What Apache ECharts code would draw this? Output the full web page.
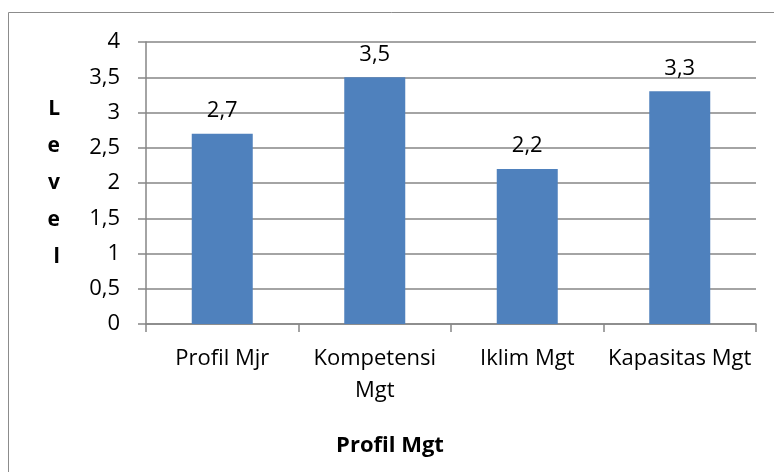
<!DOCTYPE html>
<html>
<head>
<meta charset="utf-8">
<script src="https://cdn.jsdelivr.net/npm/echarts@6/dist/echarts.min.js"></script>
<style>
  html, body { margin: 0; padding: 0; background: #fff; }
  #chart { width: 774px; height: 472px; }
</style>
</head>
<body>
<div id="chart"></div>
<script>
  // data
  var categories = ['Profil Mjr', 'Kompetensi\nMgt', 'Iklim Mgt', 'Kapasitas Mgt'];
  var levels = [2.7, 3.5, 2.2, 3.3];
  var yTicks = { min: 0, max: 4, interval: 0.5 };

  var font = '"Open Sans", "Noto Sans", sans-serif';
  var comma = function (v) { return String(v).replace('.', ','); };

  var chart = echarts.init(document.getElementById('chart'));
  chart.setOption({
    animation: false,
    grid: { left: 146, right: 18, top: 42, bottom: 148 },
    graphic: [
      {
        type: 'rect',
        shape: { x: 8.5, y: 12.5, width: 800, height: 500 },
        style: { fill: 'none', stroke: '#8c8c8c', lineWidth: 1 },
        silent: true
      },
      {
        type: 'text',
        x: 390, y: 446,
        style: {
          text: 'Profil Mgt',
          font: 'bold 22px ' + font,
          fill: '#000',
          align: 'center',
          verticalAlign: 'middle'
        }
      }
    ],
    xAxis: {
      type: 'category',
      data: categories,
      axisLine: { lineStyle: { color: '#868686', width: 1.5 } },
      axisTick: { show: true, length: 8, lineStyle: { color: '#868686', width: 1.5 } },
      axisLabel: {
        color: '#000', fontSize: 22, fontFamily: font,
        margin: 19, lineHeight: 32, interval: 0
      }
    },
    yAxis: {
      type: 'value',
      min: yTicks.min, max: yTicks.max, interval: yTicks.interval,
      name: 'L\ne\nv\ne\nl',
      nameLocation: 'middle',
      nameRotate: 0,
      nameGap: 86,
      nameTextStyle: { color: '#000', fontSize: 21, fontWeight: 'bold', fontFamily: font, lineHeight: 37 },
      axisLine: { show: true, lineStyle: { color: '#868686', width: 1.5 } },
      axisTick: { show: true, length: 8, lineStyle: { color: '#868686', width: 1.5 } },
      splitLine: { lineStyle: { color: '#868686', width: 1.5 } },
      axisLabel: {
        color: '#000', fontSize: 22, fontFamily: font, margin: 26,
        formatter: comma
      }
    },
    series: [{
      type: 'bar',
      data: levels,
      barWidth: '40%',
      itemStyle: { color: '#4F81BD' },
      label: {
        show: true,
        position: 'top',
        distance: 12,
        color: '#000',
        fontSize: 22,
        fontFamily: font,
        formatter: function (p) { return comma(p.value); }
      }
    }]
  });
</script>
</body>
</html>
